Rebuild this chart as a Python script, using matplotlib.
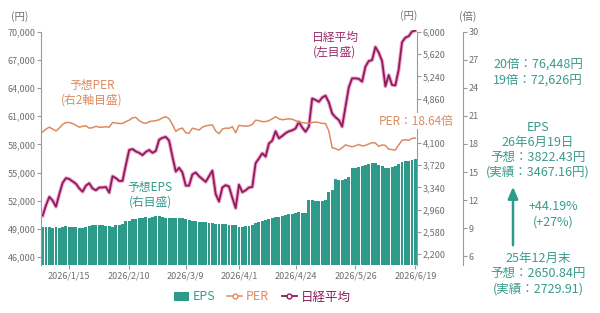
import matplotlib.pyplot as plt
import matplotlib.patheffects as pe
from matplotlib.lines import Line2D
from matplotlib.patches import Patch
import numpy as np

plt.rcParams['font.family'] = ['Noto Sans CJK JP', 'DejaVu Sans']

# 日経平均 (左目盛, 円)
nikkei = [
    50400, 51500, 52400, 52000, 51350, 52700, 53900, 54400, 54300, 54050,
    53800, 53300, 52950, 53600, 53850, 53300, 53100, 53400, 53400, 53450,
    52850, 54600, 54400, 54100, 54100, 55800, 57400, 57500, 57250, 57100,
    56850, 57200, 57400, 57100, 57300, 58500, 58700, 58800, 58400, 56700,
    55100, 55500, 55000, 53600, 53600, 54800, 55000, 54600, 54300, 54000,
    54600, 55200, 52700, 51900, 53400, 53650, 53500, 52300, 51200, 53700,
    52900, 53100, 53400, 53450, 56000, 56500, 57050, 56700, 58100, 58400,
    59400, 58650, 58900, 59200, 59400, 59500, 59700, 60400, 59800, 59350,
    59900, 62900, 62750, 62550, 63000, 63200, 62500, 61300, 60900, 60600,
    59900, 62000, 64100, 65050, 65050, 65000, 64700, 66300, 66900, 67000,
    68400, 67800, 66900, 64200, 65400, 64350, 64300, 66000, 68900, 69400,
    69550, 70050, 70150,
]

# 予想PER (右2軸目盛, 倍)
per = [
    19.3, 19.6, 19.8, 19.6, 19.4, 19.7, 20.1, 20.3, 20.3, 20.2,
    20.0, 19.8, 19.9, 19.95, 19.7, 19.75, 19.9, 19.8, 19.8, 19.85,
    19.8, 20.3, 20.25, 20.2, 20.2, 20.4, 20.55, 20.8, 20.85, 20.5,
    20.3, 20.2, 20.4, 20.45, 20.5, 20.6, 20.8, 20.93, 20.7, 20.1,
    19.35, 19.6, 19.7, 19.2, 19.15, 19.7, 19.6, 19.5, 19.8, 19.95,
    20.0, 20.05, 19.4, 19.1, 19.6, 19.7, 19.68, 19.86, 19.2, 20.0,
    19.95, 19.9, 19.95, 20.1, 20.55, 20.5, 20.4, 20.4, 20.5, 20.7,
    20.93, 20.7, 20.6, 20.65, 20.7, 20.65, 20.5, 20.35, 20.3, 20.25,
    20.2, 20.3, 20.35, 20.3, 20.2, 20.2, 19.4, 17.6, 17.5, 17.35,
    17.6, 17.9, 17.8, 17.7, 17.8, 17.95, 17.8, 17.85, 18.0, 18.15,
    18.1, 17.75, 17.9, 17.85, 17.45, 17.4, 17.36, 17.9, 18.4, 18.45,
    18.4, 18.6, 18.64,
]

# 予想EPS (右目盛, 円)
eps = [
    2655, 2660, 2655, 2650, 2660, 2650, 2665, 2675, 2670, 2665,
    2660, 2650, 2650, 2655, 2675, 2690, 2695, 2700, 2690, 2680,
    2680, 2670, 2690, 2700, 2720, 2760, 2770, 2800, 2805, 2810,
    2820, 2825, 2820, 2840, 2855, 2845, 2825, 2810, 2815, 2820,
    2815, 2810, 2815, 2795, 2775, 2770, 2760, 2755, 2750, 2740,
    2735, 2725, 2720, 2715, 2710, 2710, 2705, 2700, 2690, 2670,
    2665, 2675, 2680, 2700, 2725, 2745, 2770, 2790, 2805, 2815,
    2830, 2840, 2850, 2860, 2880, 2890, 2905, 2925, 2910, 2905,
    3120, 3125, 3105, 3100, 3115, 3130, 3260, 3290, 3480, 3470,
    3470, 3480, 3525, 3665, 3680, 3695, 3710, 3730, 3740, 3755,
    3760, 3725, 3700, 3670, 3680, 3690, 3700, 3745, 3770, 3790,
    3800, 3810, 3822,
]

tick_idx = [8, 26, 43, 59, 76, 94, 112]
tick_labels = ['2026/1/15', '2026/2/10', '2026/3/9', '2026/4/1',
               '2026/4/24', '2026/5/26', '2026/6/19']
nikkei_ticks = [46000, 49000, 52000, 55000, 58000, 61000, 64000, 67000, 70000]
eps_ticks = [2200, 2580, 2960, 3340, 3720, 4100, 4480, 4860, 5240, 5620, 6000]
per_ticks = [6, 9, 12, 15, 18, 21, 24, 27, 30]

TEAL = "#2e9a8a"
TEAL_TXT = "#3a9b8d"
ORANGE = "#dc8b60"
PURPLE = "#8a1d5c"
GLOW = "#f5a3cd"
GRAY = "#9a9a9a"
LABEL = "#6e6e6e"

W, H = 600, 313
fig = plt.figure(figsize=(W / 100, H / 100), dpi=100)
fig.patch.set_facecolor("white")

def fx(px):
    return px / W

def fy(py):
    return 1 - py / H

ax = fig.add_axes([fx(41), fy(265), fx(417) - fx(41), fy(30) - fy(265)])
ax_eps = ax.twinx()
ax_per = ax.twinx()

x = np.arange(len(eps))

ax_eps.bar(x, eps, width=0.88, color=TEAL, edgecolor="none")
ax_eps.set_ylim(2012, 6034)
ax_eps.set_yticks(eps_ticks)
# 4,480 の目盛ラベルは「PER：18.64倍」の注記に隠れている
ax_eps.set_yticklabels(["" if v == 4480 else f"{v:,}" for v in eps_ticks])

ax.plot(x, nikkei, color=PURPLE, lw=1.3, zorder=5,
        path_effects=[pe.Stroke(linewidth=2.8, foreground=GLOW), pe.Normal()])
ax.set_ylim(45125, 70213)
ax.set_yticks(nikkei_ticks)
ax.set_yticklabels([f"{v:,}" for v in nikkei_ticks])
ax.set_zorder(ax_eps.get_zorder() + 1)
ax.patch.set_visible(False)

ax_per.plot(x, per, color=ORANGE, lw=1.1)
ax_per.set_ylim(5.04, 30.21)
ax_per.set_yticks(per_ticks)
ax_per.spines["right"].set_position(("axes", (463 - 41) / (417 - 41)))
ax_per.set_zorder(ax.get_zorder() + 1)

ax.set_xlim(-0.5, len(eps) - 0.5)
ax.set_xticks(tick_idx)
ax.set_xticklabels(tick_labels)

for a in (ax, ax_eps, ax_per):
    for s in a.spines.values():
        s.set_visible(False)
    a.tick_params(colors=GRAY, labelcolor=LABEL, labelsize=6.5, length=3, width=0.8)
ax.spines["left"].set_visible(True)
ax.spines["left"].set_color(GRAY)
ax.spines["left"].set_bounds(45125, 70000)
ax_eps.spines["right"].set_visible(True)
ax_eps.spines["right"].set_color(GRAY)
ax_eps.spines["right"].set_bounds(2012, 6000)
ax_per.spines["right"].set_visible(True)
ax_per.spines["right"].set_color(GRAY)
ax_per.spines["right"].set_bounds(5.04, 30)
ax.tick_params(axis="x", pad=2)
ax.tick_params(axis="y", pad=1)
ax_eps.tick_params(axis="y", pad=1)
ax_per.tick_params(axis="y", pad=1)

# 軸単位
fig.text(fx(20), fy(17), "(円)", color=LABEL, fontsize=7.5, ha="center", va="center")
fig.text(fx(409), fy(16), "(円)", color=LABEL, fontsize=7.5, ha="center", va="center")
fig.text(fx(468), fy(16), "(倍)", color=LABEL, fontsize=7.5, ha="center", va="center")

# 系列ラベル
fig.text(fx(92), fy(93), "予想PER\n(右2軸目盛)", color=ORANGE, fontsize=8.5,
         ha="center", va="center", linespacing=1.2)
fig.text(fx(150), fy(195), "予想EPS\n(右目盛)", color=TEAL_TXT, fontsize=8.5,
         ha="center", va="center", linespacing=1.2)
fig.text(fx(335), fy(45), "日経平均\n(左目盛)", color="#9b2a6e", fontsize=8.5,
         ha="center", va="center", linespacing=1.2)
fig.text(fx(416), fy(121), "PER：18.64倍", color=ORANGE, fontsize=8.5,
         ha="center", va="center", zorder=20,
         bbox=dict(facecolor="white", edgecolor="none", pad=1.0))

# 右側の注記
right_lines = [
    (64, "20倍：76,448円"),
    (80, "19倍：72,626円"),
    (127, "EPS"),
    (142, "26年6月19日"),
    (157, "予想：3822.43円"),
    (172, "(実績：3467.16円)"),
    (258, "25年12月末"),
    (274, "予想：2650.84円"),
    (289, "(実績：2729.91)"),
]
for py, s in right_lines:
    fig.text(fx(538), fy(py), s, color=TEAL_TXT, fontsize=9,
             ha="center", va="center")
fig.text(fx(553), fy(207), "+44.19%", color=TEAL_TXT, fontsize=9, ha="center", va="center")
fig.text(fx(553), fy(222), "(+27%)", color=TEAL_TXT, fontsize=9, ha="center", va="center")
ax.annotate("", xy=(fx(513), fy(184)), xytext=(fx(513), fy(248)),
            xycoords="figure fraction", textcoords="figure fraction",
            arrowprops=dict(arrowstyle="-|>,head_length=0.7,head_width=0.3",
                            color=TEAL, lw=1.8))

# 凡例
handles = [
    Patch(facecolor=TEAL, edgecolor="none"),
    Line2D([0], [0], color=ORANGE, lw=1.1, marker="o", markersize=3.5,
           markerfacecolor="white", markeredgecolor=ORANGE),
    Line2D([0], [0], color=PURPLE, lw=1.3, marker="o", markersize=3.5,
           markerfacecolor="white", markeredgecolor=PURPLE),
]
leg = fig.legend(handles, ["EPS", "PER", "日経平均"], loc="center",
                 bbox_to_anchor=(fx(262), fy(297)), ncol=3, frameon=False,
                 fontsize=9, handlelength=1.2, handletextpad=0.3,
                 columnspacing=1.0)
for t, c in zip(leg.get_texts(), [TEAL_TXT, ORANGE, PURPLE]):
    t.set_color(c)

fig.savefig("out.png", dpi=100)
